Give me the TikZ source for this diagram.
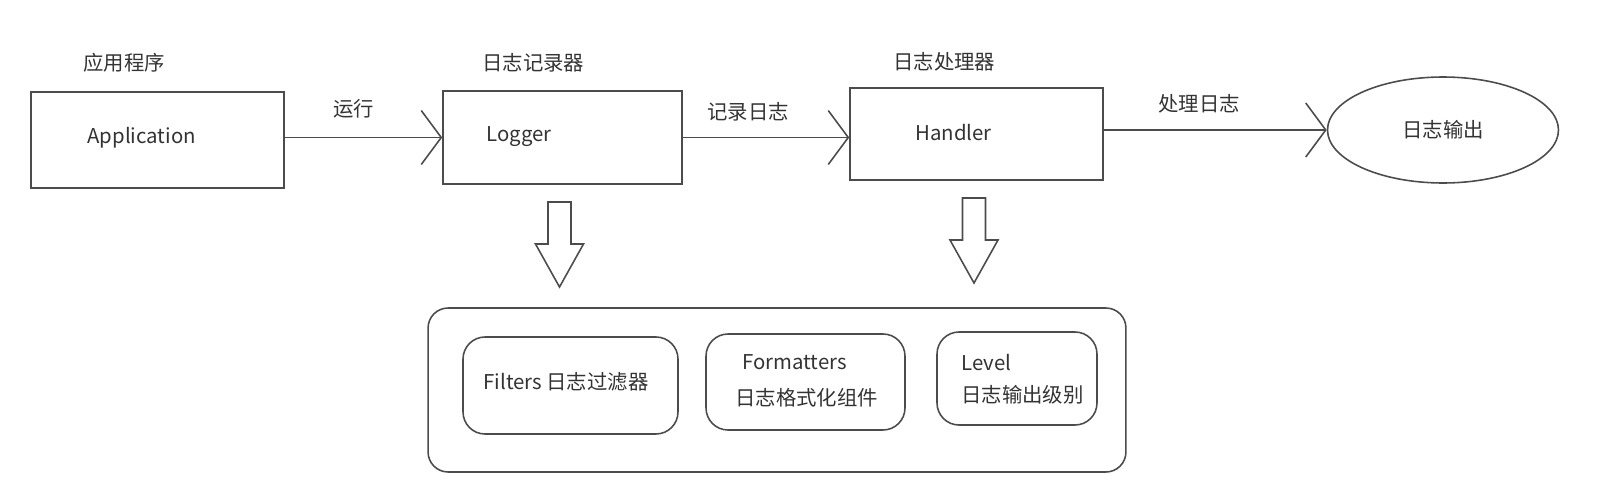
\documentclass[tikz,border=0pt]{standalone}
\usepackage{fontspec}
\setmainfont{Noto Sans CJK SC}
\usetikzlibrary{arrows.meta,shapes.geometric}

\newcommand\hollowdown[2]{%
  \draw[blockarrow] (#1-11.5,#2)--(#1+11.5,#2)--(#1+11.5,#2+42)--(#1+24,#2+42)
    --(#1,#2+85)--(#1-24,#2+42)--(#1-11.5,#2+42)--cycle;}

\begin{document}
\begin{tikzpicture}[x=0.02cm,y=-0.02cm,
    font=\fontsize{11.6}{14}\selectfont,
    box/.style={draw=black!70,line width=0.9pt,inner sep=0pt},
    rbox/.style={box,rounded corners=0.44cm},
    txt/.style={anchor=west,inner sep=0pt,text=black!80},
    flow/.style={draw=black!70,line width=0.9pt,-{Straight Barb[length=0.4cm,width=1.08cm]}},
    blockarrow/.style={draw=black!70,line width=0.9pt,line join=miter}]
      \useasboundingbox (0,0) rectangle (1599,480);
      % top row
      \node [box,minimum width=5.06cm,minimum height=1.92cm] (app) at (157.5,140) {};
      \node [box,minimum width=4.78cm,minimum height=1.86cm] (logger) at (562.5,137.5) {};
      \node [box,minimum width=5.06cm,minimum height=1.84cm] (handler) at (976.5,134) {};
      \node [box,ellipse,minimum width=4.62cm,minimum height=2.12cm] (out) at (1443,130) {};
      \node [txt] (appname) at (83,63) {应用程序};
      \node [txt] (logname) at (482,63) {日志记录器};
      \node [txt] (hanname) at (893,62) {日志处理器};
      \node [txt] (apptxt) at (87,138) {Application};
      \node [txt] (logtxt) at (486,137) {Logger};
      \node [txt] (hantxt) at (915,133) {Handler};
      \node [inner sep=0pt,text=black!80] (outtxt) at (out.center) {日志输出};
      \draw[flow] (app.east |- logger.west) -- (logger.west);
      \draw[flow] (logger.east) -- (logger.east -| handler.west);
      \draw[flow] (handler.east |- out.west) -- (out.west);
      \node [txt] (run) at (333,109) {运行};
      \node [txt] (rec) at (707,112) {记录日志};
      \node [txt] (proc) at (1158,104) {处理日志};
      % hollow arrows down
      \hollowdown{559.5}{202}
      \hollowdown{974}{198}
      % components
      \node [box,rounded corners=0.4cm,minimum width=13.96cm,minimum height=3.28cm] (comp) at (777,390) {};
      \node [rbox,minimum width=4.3cm,minimum height=1.94cm] (filt) at (570.5,385.5) {};
      \node [rbox,minimum width=3.98cm,minimum height=1.92cm] (fmt) at (805.5,382) {};
      \node [rbox,minimum width=3.2cm,minimum height=1.86cm] (lvl) at (1017,378.5) {};
      \node [txt] (filttxt) at (483,382) {Filters 日志过滤器};
      \node [txt] (fmttxt) at (742,362) {Formatters};
      \node [txt] (fmtcn) at (735,398) {日志格式化组件};
      \node [txt] (lvltxt) at (961,363) {Level};
      \node [txt] (lvlcn) at (961,395) {日志输出级别};
\end{tikzpicture}
\end{document}
